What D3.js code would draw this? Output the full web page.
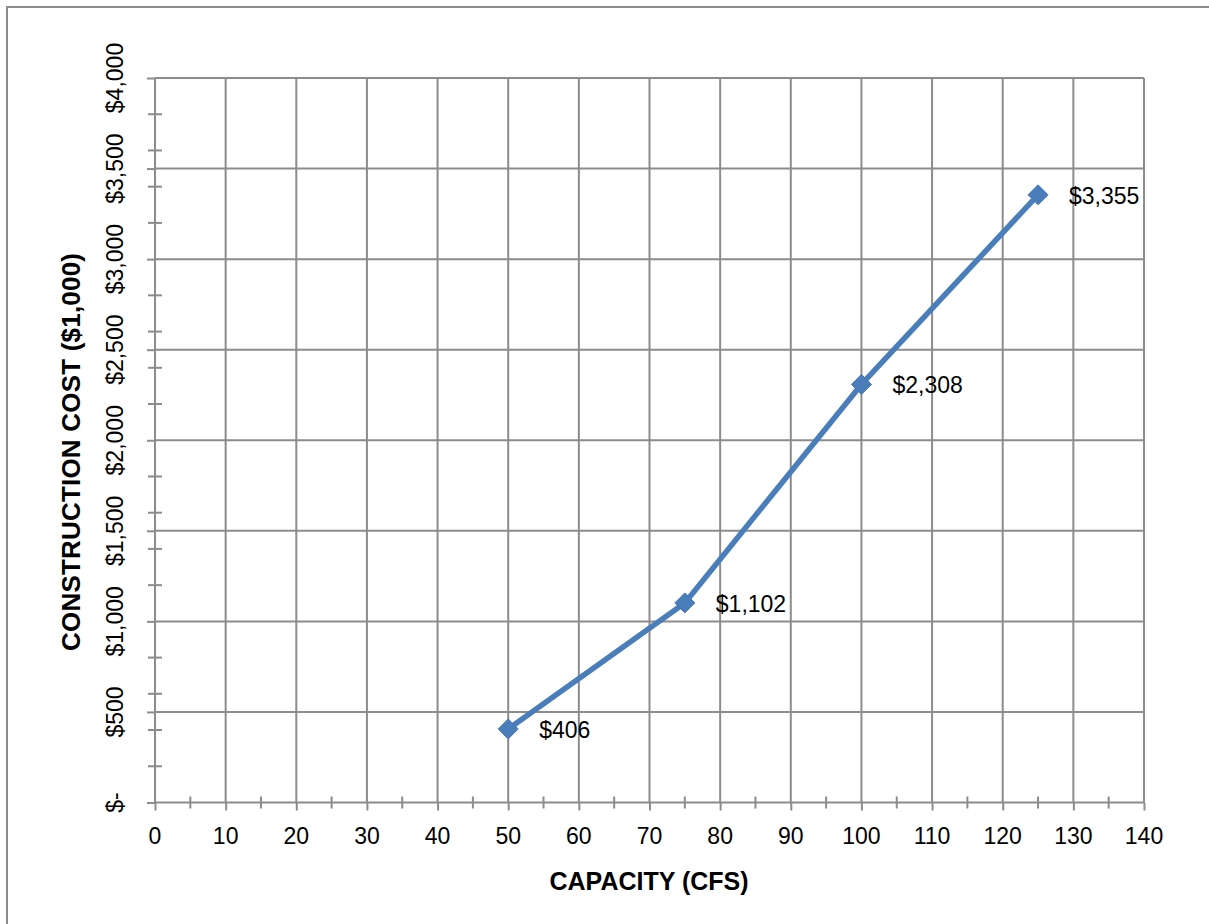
<!DOCTYPE html>
<html>
<head>
<meta charset="utf-8">
<script src="https://cdn.jsdelivr.net/npm/d3@7/dist/d3.min.js"></script>
<style>
  html, body { margin: 0; padding: 0; background: #fff; }
  svg { display: block; }
  text { font-family: "Liberation Sans", Arial, sans-serif; fill: #000; }
</style>
</head>
<body>
<svg id="chart" width="1209" height="924"></svg>
<script>
// Construction cost vs. capacity
const capacity = [50, 75, 100, 125];          // CFS
const cost = [406, 1102, 2308, 3355];          // $1,000
const costLabels = ["$406", "$1,102", "$2,308", "$3,355"];
const xTicks = [0, 10, 20, 30, 40, 50, 60, 70, 80, 90, 100, 110, 120, 130, 140];
const yTicks = [0, 500, 1000, 1500, 2000, 2500, 3000, 3500, 4000];
const yTickLabels = ["$-", "$500", "$1,000", "$1,500", "$2,000", "$2,500", "$3,000", "$3,500", "$4,000"];

const svg = d3.select("#chart");
const gridColor = "#8c8c8c";
const lineColor = "#4a7ebb";

const x = d3.scaleLinear().domain([0, 140]).range([155, 1144]);
const y = d3.scaleLinear().domain([0, 4000]).range([802.5, 78]);

// outer chart frame
svg.append("rect")
  .attr("x", 7).attr("y", 7).attr("width", 1240).attr("height", 960)
  .attr("fill", "none").attr("stroke", gridColor).attr("stroke-width", 2);

// gridlines
svg.append("g").selectAll("line").data(xTicks.slice(1)).join("line")
  .attr("x1", d => x(d)).attr("x2", d => x(d))
  .attr("y1", y(4000)).attr("y2", y(0))
  .attr("stroke", gridColor).attr("stroke-width", 2);
svg.append("g").selectAll("line").data(yTicks.slice(1)).join("line")
  .attr("x1", x(0)).attr("x2", x(140))
  .attr("y1", d => y(d)).attr("y2", d => y(d))
  .attr("stroke", gridColor).attr("stroke-width", 2);

// y axis: major ticks outside, minor ticks crossing
const yAxis = d3.axisLeft(y).tickValues(yTicks).tickSize(8).tickPadding(0).tickFormat("");
const gy = svg.append("g").attr("transform", `translate(${x(0)},0)`).call(yAxis);
gy.select(".domain").attr("stroke", gridColor).attr("stroke-width", 2).attr("d", `M0,${y(4000)}V${y(0)}`);
gy.selectAll(".tick line").attr("stroke", gridColor).attr("stroke-width", 2);
const yMinor = d3.range(200, 4000, 200).filter(v => v % 500 !== 0);
gy.append("g").selectAll("line").data(yMinor).join("line")
  .attr("x1", -7).attr("x2", 7)
  .attr("y1", d => y(d)).attr("y2", d => y(d))
  .attr("stroke", gridColor).attr("stroke-width", 2);

// x axis
const xAxis = d3.axisBottom(x).tickValues(xTicks).tickSize(8).tickPadding(0).tickFormat("");
const gx = svg.append("g").attr("transform", `translate(0,${y(0)})`).call(xAxis);
gx.select(".domain").attr("stroke", gridColor).attr("stroke-width", 2).attr("d", `M${x(0)},0H${x(140)}`);
gx.selectAll(".tick line").attr("stroke", gridColor).attr("stroke-width", 2);
const xMinor = d3.range(5, 140, 10);
gx.append("g").selectAll("line").data(xMinor).join("line")
  .attr("x1", d => x(d)).attr("x2", d => x(d))
  .attr("y1", -6).attr("y2", 6)
  .attr("stroke", gridColor).attr("stroke-width", 2);

// tick labels
svg.append("g").selectAll("text").data(xTicks).join("text")
  .attr("x", d => x(d)).attr("y", 836)
  .attr("text-anchor", "middle").attr("dominant-baseline", "central")
  .attr("font-size", 23)
  .text(d => d);
svg.append("g").selectAll("text").data(yTicks).join("text")
  .attr("transform", d => `translate(115,${y(d)}) rotate(-90)`)
  .attr("text-anchor", "middle").attr("dominant-baseline", "central")
  .attr("font-size", 23)
  .text((d, i) => yTickLabels[i]);

// axis titles
svg.append("text")
  .attr("x", 649).attr("y", 881)
  .attr("text-anchor", "middle").attr("dominant-baseline", "central")
  .attr("font-size", 25).attr("font-weight", "bold")
  .text("CAPACITY (CFS)");
svg.append("text")
  .attr("transform", "translate(71,452) rotate(-90)")
  .attr("text-anchor", "middle").attr("dominant-baseline", "central")
  .attr("font-size", 26).attr("font-weight", "bold")
  .attr("textLength", 398).attr("lengthAdjust", "spacing")
  .text("CONSTRUCTION COST ($1,000)");

// series line
const pts = capacity.map((c, i) => [c, cost[i]]);
svg.append("path")
  .datum(pts)
  .attr("d", d3.line().x(d => x(d[0])).y(d => y(d[1])))
  .attr("fill", "none").attr("stroke", lineColor).attr("stroke-width", 5.5)
  .attr("stroke-linejoin", "round");

// diamond markers
svg.append("g").selectAll("path").data(pts).join("path")
  .attr("transform", d => `translate(${x(d[0])},${y(d[1])})`)
  .attr("d", "M0,-10L10,0L0,10L-10,0Z")
  .attr("fill", lineColor).attr("stroke", "#4576b3").attr("stroke-width", 1);

// data labels
svg.append("g").selectAll("text").data(pts).join("text")
  .attr("x", d => x(d[0]) + 31).attr("y", d => y(d[1]) + 1)
  .attr("dominant-baseline", "central")
  .attr("font-size", 23)
  .text((d, i) => costLabels[i]);
</script>
</body>
</html>
